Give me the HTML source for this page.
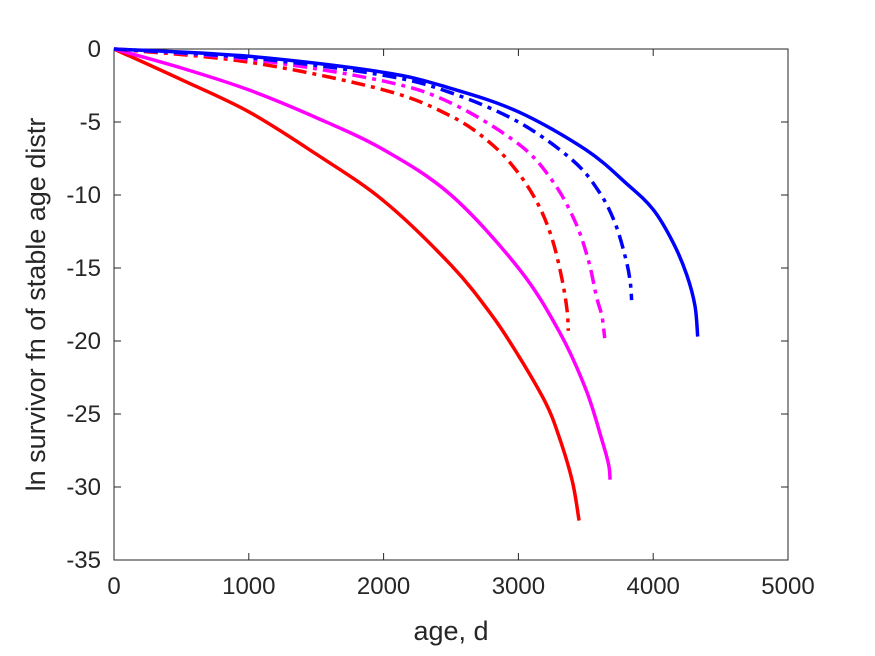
<!DOCTYPE html>
<html><head><meta charset="utf-8"><style>body{margin:0;background:#fff}svg{display:block;font-family:"Liberation Sans",sans-serif}</style></head>
<body>
<svg id="chart" width="875" height="656" viewBox="0 0 875 656"></svg>
<script>
const xTicks=[0,1000,2000,3000,4000,5000];
const yTicks=[0,-5,-10,-15,-20,-25,-30,-35];
const redSolidX=[0,500,1000,1500,2000,2500,2800,3000,3200,3300,3400,3450];
const redSolidY=[0,-2.1,-4.3,-7.2,-10.4,-14.8,-18.2,-21,-24.2,-26.5,-29.6,-32.3];
const magSolidX=[0,500,1000,1500,2000,2500,3000,3300,3500,3620,3670,3680];
const magSolidY=[0,-1.3,-2.8,-4.7,-6.9,-10,-15,-19.3,-23.3,-26.8,-28.5,-29.5];
const blueSolidX=[0,1000,2000,2500,3000,3500,3800,4000,4150,4250,4310,4330];
const blueSolidY=[0,-0.5,-1.6,-2.7,-4.3,-6.9,-9.2,-11,-13.3,-15.5,-17.6,-19.7];
const redDashX=[0,1000,2000,2500,2800,3000,3150,3250,3320,3360,3370];
const redDashY=[0,-0.9,-2.8,-4.6,-6.5,-8.5,-10.7,-13,-15.6,-17.8,-19.3];
const magDashX=[0,1000,2000,2500,3000,3250,3420,3520,3580,3620,3640];
const magDashY=[0,-0.7,-2.2,-3.7,-6.5,-9,-11.8,-14.5,-17,-18.3,-19.8];
const blueDashX=[0,1000,2000,2500,3000,3400,3600,3720,3800,3830,3840];
const blueDashY=[0,-0.6,-1.8,-3,-5,-7.6,-9.8,-12,-14.5,-16,-17.2];
const L=114,R=788,T=49,B=560;
const sx=v=>L+(v-0)/5000*(R-L);
const sy=v=>T+(0-v)/35*(B-T);
const svg=document.getElementById('chart');
const NS='http://www.w3.org/2000/svg';
function mk(tag,attrs,name){const e=document.createElementNS(NS,tag);for(const k in attrs)e.setAttribute(k,attrs[k]);


svg.appendChild(e);return e;}
mk('rect',{x:L,y:T,width:R-L,height:B-T,fill:'#fff',stroke:'#262626','stroke-width':1},'plot-area');
xTicks.forEach(t=>{const x=sx(t);
mk('line',{x1:x,x2:x,y1:B,y2:B-7,stroke:'#262626'},'x-tick');
mk('line',{x1:x,x2:x,y1:T,y2:T+7,stroke:'#262626'},'x-tick-top');
const tx=mk('text',{x:x,y:B+34,'text-anchor':'middle','font-size':24,fill:'#262626'},'x-tick-label');tx.textContent=t;});
yTicks.forEach(t=>{const y=sy(t);
mk('line',{x1:L,x2:L+7,y1:y,y2:y,stroke:'#262626'},'y-tick');
mk('line',{x1:R,x2:R-7,y1:y,y2:y,stroke:'#262626'},'y-tick-right');
const tx=mk('text',{x:L-13,y:y+8,'text-anchor':'end','font-size':24,fill:'#262626'},'y-tick-label');tx.textContent=t;});
const xl=mk('text',{x:(L+R)/2,y:640,'text-anchor':'middle','font-size':27,fill:'#262626'},'x-axis-title');xl.textContent='age, d';
const yl=mk('text',{x:0,y:0,'text-anchor':'middle','font-size':27,fill:'#262626',transform:`translate(45,${(T+B)/2}) rotate(-90)`},'y-axis-title');yl.textContent='ln survivor fn of stable age distr';
function line(xs,ys,color,dash,name){
const p=xs.map((v,i)=>[sx(v),sy(ys[i])]);
let d='M'+p[0][0].toFixed(1)+','+p[0][1].toFixed(1);
for(let i=0;i<p.length-1;i++){const p0=p[Math.max(0,i-1)],p1=p[i],p2=p[i+1],p3=p[Math.min(p.length-1,i+2)];
const c1=[p1[0]+(p2[0]-p0[0])/6,p1[1]+(p2[1]-p0[1])/6],c2=[p2[0]-(p3[0]-p1[0])/6,p2[1]-(p3[1]-p1[1])/6];
d+='C'+c1.map(n=>n.toFixed(1)).join(',')+' '+c2.map(n=>n.toFixed(1)).join(',')+' '+p2.map(n=>n.toFixed(1)).join(',');}
const a={d:d,fill:'none',stroke:color,'stroke-width':3.5,'stroke-linejoin':'round'};if(dash)a['stroke-dasharray']=dash;mk('path',a,name);}
line(redSolidX,redSolidY,'#ff0000',null,'series-red-solid');
line(magSolidX,magSolidY,'#ff00ff',null,'series-magenta-solid');
line(blueSolidX,blueSolidY,'#0000ff',null,'series-blue-solid');
line(redDashX,redDashY,'#ff0000','14,6,4,6','series-red-dashdot');
line(magDashX,magDashY,'#ff00ff','14,6,4,6','series-magenta-dashdot');
line(blueDashX,blueDashY,'#0000ff','14,6,4,6','series-blue-dashdot');
</script>
</body></html>
